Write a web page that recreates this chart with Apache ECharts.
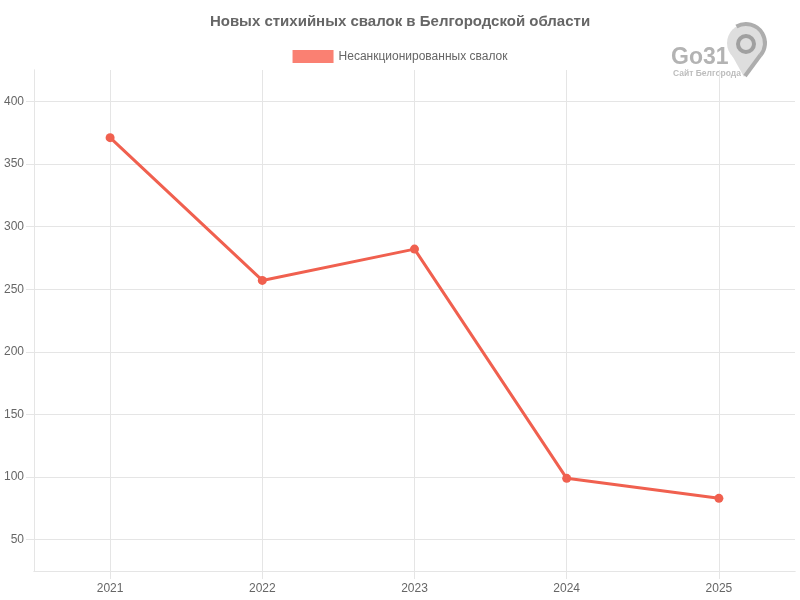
<!DOCTYPE html>
<html><head><meta charset="utf-8">
<script src="https://cdn.jsdelivr.net/npm/echarts@6/dist/echarts.min.js"></script>
<style>html,body{margin:0;padding:0;background:#fff}#c{width:800px;height:600px}</style>
</head><body><div id="c"></div>
<script>
const years = [2021, 2022, 2023, 2024, 2025];
const dumps = [371, 257, 282, 99, 83];
const yTicks = [50, 100, 150, 200, 250, 300, 350, 400];
const titleText = 'Новых стихийных свалок в Белгородской области';
const seriesName = 'Несанкционированных свалок';

const gridColor = '#e5e5e5';
const chart = echarts.init(document.getElementById('c'), null, {renderer: 'canvas'});
const logo = [
  {type: 'polygon', shape: {points: [[728, 48], [764, 48], [744, 77]]}, style: {fill: '#dedede'}},
  {type: 'circle', shape: {cx: 746, cy: 43, r: 19}, style: {fill: '#dedede'}},
  {type: 'arc', shape: {cx: 746, cy: 43, r: 19, startAngle: -2.1, endAngle: 0.7, clockwise: true}, style: {fill: 'none', stroke: '#adadad', lineWidth: 4}},
  {type: 'line', shape: {x1: 760.5, y1: 55, x2: 745, y2: 76}, style: {stroke: '#adadad', lineWidth: 4}},
  {type: 'circle', shape: {cx: 746, cy: 44, r: 8}, style: {fill: 'none', stroke: '#a0a0a0', lineWidth: 4}},
  {type: 'text', left: 671, top: 46, style: {text: 'Go31', font: 'bold 23px Liberation Sans, Arial', fill: '#b3b3b3'}},
  {type: 'text', left: 673, top: 69, style: {text: 'Сайт Белгорода', font: 'bold 8.5px Liberation Sans, Arial', fill: '#bdbdbd'}}
];
const tickOnly = {
  axisLine: {show: true, lineStyle: {color: gridColor}}, axisLabel: {show: false}, splitLine: {show: false},
  axisTick: {show: true, inside: false, length: 8, alignWithLabel: true, lineStyle: {color: gridColor}}
};
chart.setOption({
  animation: false,
  textStyle: {fontFamily: 'Liberation Sans, Arial, sans-serif'},
  title: {text: titleText, left: 'center', top: 9,
    textStyle: {fontSize: 15, fontWeight: 'bold', color: '#666', fontFamily: 'Liberation Sans, Arial, sans-serif'}},
  legend: {top: 45, left: 'center', itemWidth: 41, itemHeight: 13, itemGap: 10,
    icon: 'rect',
    textStyle: {fontSize: 12, color: '#666'},
    data: [{name: seriesName, itemStyle: {color: '#fa8072', borderWidth: 0}}]},
  grid: {left: 34, right: 5, top: 70, bottom: 29, containLabel: false},
  xAxis: [
    {type: 'value', min: 2020.5, max: 2025.5, position: 'bottom',
      axisLine: {show: true, lineStyle: {color: gridColor}},
      axisTick: {show: false, customValues: years},
      axisLabel: {color: '#666', fontSize: 12, margin: 12, customValues: years, formatter: v => String(v)},
      splitLine: {show: true, lineStyle: {color: gridColor}}},
    Object.assign({type: 'category', data: years.map(String), boundaryGap: true, position: 'bottom', z: 1}, tickOnly)
  ],
  yAxis: [
    {type: 'value', min: 25, max: 425, position: 'left',
      axisLine: {show: true, lineStyle: {color: gridColor}},
      axisTick: {show: false, customValues: yTicks},
      axisLabel: {color: '#666', fontSize: 12, margin: 10, customValues: yTicks},
      splitLine: {show: true, lineStyle: {color: gridColor}}},
    Object.assign({type: 'category', data: yTicks.map(String), boundaryGap: true, position: 'left', z: 1}, tickOnly)
  ],
  graphic: logo,
  series: [{
    name: seriesName, type: 'line', xAxisIndex: 0, yAxisIndex: 0,
    data: years.map((y, i) => [y, dumps[i]]),
    symbol: 'circle', symbolSize: 9,
    lineStyle: {color: '#f0604f', width: 3},
    itemStyle: {color: '#f0604f'}
  }]
});
</script></body></html>
